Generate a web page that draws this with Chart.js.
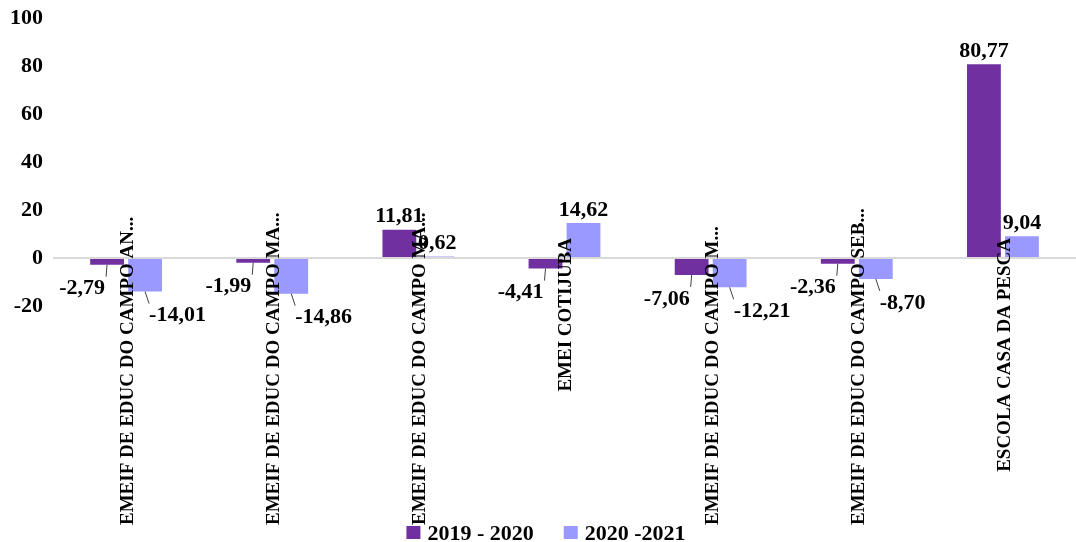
<!DOCTYPE html>
<html>
<head>
<meta charset="utf-8">
<script src="https://cdn.jsdelivr.net/npm/chart.js@4"></script>
<style>
  html, body { margin: 0; padding: 0; background: #fff; }
  #wrap { width: 1076px; height: 542px; }
</style>
</head>
<body>
<div id="wrap"><canvas id="barChart"></canvas></div>
<script>
// Chart data
const categories = [
  'EMEIF DE EDUC DO CAMPO AN...',
  'EMEIF DE EDUC DO CAMPO MA...',
  'EMEIF DE EDUC DO CAMPO MA...',
  'EMEI COTIJUBA',
  'EMEIF DE EDUC DO CAMPO M...',
  'EMEIF DE EDUC DO CAMPO SEB...',
  'ESCOLA CASA DA PESCA'
];
const values2019 = [-2.79, -1.99, 11.81, -4.41, -7.06, -2.36, 80.77];
const values2020 = [-14.01, -14.86, 0.62, 14.62, -12.21, -8.70, 9.04];
const seriesNames = ['2019 - 2020', '2020 -2021'];
const colors = ['#7030A0', '#9999FF'];

const FONT = '"Liberation Serif", "Times New Roman", serif';
const fmt = v => v.toFixed(2).replace('.', ',');

// value labels with small leader lines under negative bars
const valueLabels = {
  id: 'valueLabels',
  afterDatasetsDraw(chart) {
    const ctx = chart.ctx;
    ctx.save();
    ctx.font = 'bold 22px ' + FONT;
    ctx.fillStyle = '#000';
    ctx.strokeStyle = '#404040';
    ctx.lineWidth = 1;
    chart.data.datasets.forEach((ds, di) => {
      const meta = chart.getDatasetMeta(di);
      meta.data.forEach((bar, i) => {
        const v = ds.data[i];
        const txt = fmt(v);
        if (v >= 0) {
          ctx.textAlign = 'center';
          ctx.textBaseline = 'bottom';
          ctx.fillText(txt, bar.x, bar.y - 2);
        } else {
          const dx = di === 0 ? -1 : 4;
          ctx.beginPath();
          ctx.moveTo(bar.x, bar.y);
          ctx.lineTo(bar.x + dx, bar.y + 12);
          ctx.stroke();
          ctx.textBaseline = 'middle';
          if (di === 0) {
            ctx.textAlign = 'right';
            ctx.fillText(txt, bar.x - 2, bar.y + 24);
          } else {
            ctx.textAlign = 'left';
            ctx.fillText(txt, bar.x + 4, bar.y + 24);
          }
        }
      });
    });
    ctx.restore();
  }
};

// rotated category labels hanging from the zero line, plus bottom legend
const categoryLabels = {
  id: 'categoryLabels',
  afterDraw(chart) {
    const ctx = chart.ctx;
    const x = chart.scales.x;
    const zeroY = chart.scales.y.getPixelForValue(0);
    ctx.save();
    ctx.font = 'bold 19px ' + FONT;
    ctx.fillStyle = '#000';
    ctx.textAlign = 'right';
    ctx.textBaseline = 'middle';
    categories.forEach((c, i) => {
      const w = ctx.measureText(c).width;
      const top = Math.min(zeroY - 20, 525 - w);
      ctx.save();
      ctx.translate(x.getPixelForValue(i) + 2, top);
      ctx.rotate(-Math.PI / 2);
      ctx.fillText(c, 0, 0);
      ctx.restore();
    });

    // legend
    ctx.font = 'bold 22px ' + FONT;
    ctx.textAlign = 'left';
    ctx.textBaseline = 'alphabetic';
    const box = 14, gap = 7, itemGap = 30;
    const widths = seriesNames.map(s => ctx.measureText(s).width);
    const total = widths.reduce((a, b) => a + b, 0) + 2 * (box + gap) + itemGap;
    let lx = chart.width / 2 + 8 - total / 2;
    seriesNames.forEach((s, i) => {
      ctx.fillStyle = colors[i];
      ctx.fillRect(lx, 526, box, 13);
      ctx.fillStyle = '#000';
      ctx.fillText(s, lx + box + gap, 540);
      lx += box + gap + widths[i] + itemGap;
    });
    ctx.restore();
  }
};

new Chart(document.getElementById('barChart'), {
  type: 'bar',
  data: {
    labels: categories,
    datasets: [
      { label: seriesNames[0], data: values2019, backgroundColor: colors[0] },
      { label: seriesNames[1], data: values2020, backgroundColor: colors[1] }
    ]
  },
  options: {
    responsive: true,
    maintainAspectRatio: false,
    animation: false,
    categoryPercentage: 0.52,
    barPercentage: 0.89,
    layout: { padding: 0 },
    scales: {
      x: {
        ticks: { display: false },
        grid: { display: false },
        border: { display: false },
        afterFit: s => { s.height = 236; }
      },
      y: {
        min: -20,
        max: 100,
        afterFit: s => { s.paddingTop = 18; },
        ticks: {
          stepSize: 20,
          padding: 10,
          color: '#000',
          font: { family: FONT, size: 22, weight: 'bold' }
        },
        grid: {
          drawTicks: false,
          color: c => c.tick.value === 0 ? '#d9d9d9' : 'rgba(0,0,0,0)',
          lineWidth: 2
        },
        border: { display: false }
      }
    },
    plugins: {
      legend: { display: false },
      tooltip: { enabled: false }
    }
  },
  plugins: [valueLabels, categoryLabels]
});
</script>
</body>
</html>
